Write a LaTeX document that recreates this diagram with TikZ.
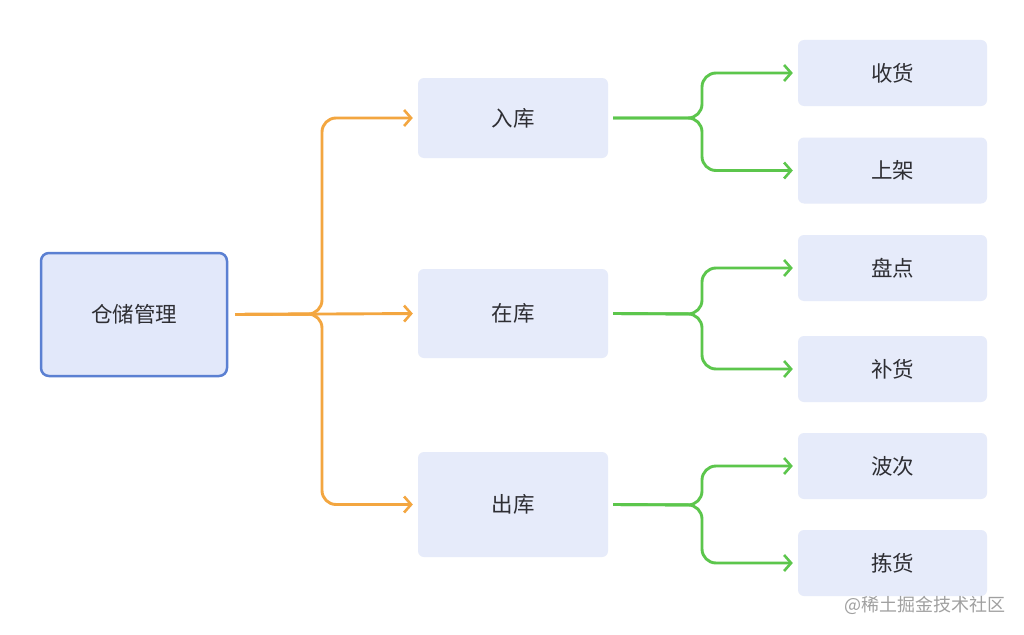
\documentclass[tikz,border=0pt]{standalone}
\usepackage{fontspec}
\setmainfont{Noto Sans CJK SC}
\usetikzlibrary{arrows.meta}
\definecolor{rootfill}{HTML}{E2E8FA}
\definecolor{rootline}{HTML}{5B80D2}
\definecolor{boxfill}{HTML}{E6EBFA}
\definecolor{orangeline}{HTML}{F3A640}
\definecolor{greenline}{HTML}{5CC64C}
\definecolor{txt}{HTML}{2E2E33}
\definecolor{wm}{HTML}{A0A0A0}
\tikzset{
  box/.style={fill=boxfill, rounded corners=6pt, text=txt, font=\fontsize{21.5}{24}\selectfont, minimum width=190pt, inner sep=0pt},
  rootbox/.style={box, fill=rootfill, draw=rootline, line width=2.5pt, rounded corners=8pt},
  oline/.style={draw=orangeline, line width=2.9pt, rounded corners=14pt, -{Straight Barb[length=7pt,width=16pt,line width=2.6pt]}, shorten >=5pt},
  gline/.style={draw=greenline, line width=2.9pt, rounded corners=14pt, -{Straight Barb[length=7pt,width=16pt,line width=2.6pt]}, shorten >=5pt},
}
\begin{document}
\begin{tikzpicture}[x=1pt,y=-1pt]
\useasboundingbox[fill=white] (0,0) rectangle (1024,634);
% nodes
\node[rootbox, minimum width=186pt, minimum height=123pt] (root) at (134,314.5) {仓储管理};
\node[box, minimum height=80pt] (ruku) at (513,118) {入库};
\node[box, minimum height=89pt] (zaiku) at (513,313.5) {在库};
\node[box, minimum height=105pt] (chuku) at (513,504.5) {出库};
\node[box, minimum width=189pt, minimum height=66pt] (shouhuo) at (892.5,73) {收货};
\node[box, minimum width=189pt, minimum height=66pt] (shangjia) at (892.5,170.5) {上架};
\node[box, minimum width=189pt, minimum height=66pt] (pandian) at (892.5,268) {盘点};
\node[box, minimum width=189pt, minimum height=66pt] (buhuo) at (892.5,369) {补货};
\node[box, minimum width=189pt, minimum height=66pt] (boci) at (892.5,466) {波次};
\node[box, minimum width=189pt, minimum height=66pt] (jianhuo) at (892.5,563) {拣货};
% orange connectors
\draw[oline] ([xshift=7pt]root.east) -- (322,314) |- (ruku.west);
\draw[oline] ([xshift=7pt]root.east) -- (zaiku.west);
\draw[oline] ([xshift=7pt]root.east) -- (322,314) |- (chuku.west);
% green connectors
\draw[gline] ([xshift=5pt]ruku.east) -- (702,118) |- (shouhuo.west);
\draw[gline] ([xshift=5pt]ruku.east) -- (702,118) |- (shangjia.west);
\draw[gline] ([xshift=5pt]zaiku.east) -- (702,314) |- (pandian.west);
\draw[gline] ([xshift=5pt]zaiku.east) -- (702,314) |- (buhuo.west);
\draw[gline] ([xshift=5pt]chuku.east) -- (702,505) |- (boci.west);
\draw[gline] ([xshift=5pt]chuku.east) -- (702,505) |- (jianhuo.west);
% watermark
\node[text=wm, font=\fontsize{18}{20}\selectfont, anchor=east, inner sep=0pt] (wmark) at (1006,605) {@稀土掘金技术社区};
\end{tikzpicture}
\end{document}
